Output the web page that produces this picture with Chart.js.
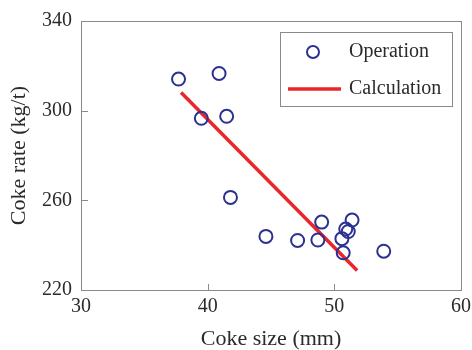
<!DOCTYPE html>
<html>
<head>
<meta charset="utf-8">
<script src="https://cdn.jsdelivr.net/npm/chart.js@4"></script>
<style>
  html, body { margin: 0; padding: 0; background: #fff; }
  #wrap { width: 472px; height: 350px; }
</style>
</head>
<body>
<div id="wrap"><canvas id="coke_chart" width="472" height="350"></canvas></div>
<script>
// measured operation points
var cokeSize = [37.7, 40.9, 39.5, 41.5, 41.8, 44.6, 47.1, 48.7, 49.0, 50.6, 50.9, 51.1, 51.4, 50.7, 53.9];
var cokeRate = [314.1, 316.6, 296.6, 297.5, 261.3, 243.9, 242.1, 242.3, 250.3, 242.9, 247.2, 246.1, 251.2, 236.6, 237.3];
// calculated trend line (end points)
var calcSize = [37.9, 51.8];
var calcRate = [308.1, 228.7];
var xTicks = [30, 40, 50, 60];
var yTicks = [220, 260, 300, 340];

var FONT = '"Liberation Serif", "Times New Roman", serif';
var TEXT = '#2b2b2b';
var AXIS = '#8a8a8a';
var BLUE = '#2b3190';
var RED = '#e8262b';

function toPoints(xs, ys) {
    return xs.map(function (x, i) { return { x: x, y: ys[i] }; });
}

// frame + inward tick marks
var framePlugin = {
    id: 'frame',
    afterDraw: function (chart) {
        var ctx = chart.ctx, a = chart.chartArea;
        var sx = chart.scales.x, sy = chart.scales.y;
        ctx.save();
        ctx.strokeStyle = AXIS;
        ctx.lineWidth = 1;
        ctx.strokeRect(Math.round(a.left) + 0.5, Math.round(a.top) + 0.5,
            Math.round(a.right - a.left), Math.round(a.bottom - a.top));
        ctx.beginPath();
        xTicks.slice(1, -1).forEach(function (v) {
            var px = Math.round(sx.getPixelForValue(v)) + 0.5;
            ctx.moveTo(px, a.bottom);
            ctx.lineTo(px, a.bottom - 6);
        });
        yTicks.slice(1, -1).forEach(function (v) {
            var py = Math.round(sy.getPixelForValue(v)) + 0.5;
            ctx.moveTo(a.left, py);
            ctx.lineTo(a.left + 7, py);
        });
        ctx.stroke();
        ctx.restore();
    }
};

// boxed legend in the upper right corner
var legendPlugin = {
    id: 'boxLegend',
    afterDraw: function (chart) {
        var ctx = chart.ctx, a = chart.chartArea;
        var bx = a.right - 181, by = a.top + 11, bw = 172, bh = 74;
        ctx.save();
        ctx.fillStyle = '#fff';
        ctx.fillRect(bx, by, bw, bh);
        ctx.strokeStyle = AXIS;
        ctx.lineWidth = 1;
        ctx.strokeRect(Math.round(bx) + 0.5, Math.round(by) + 0.5, bw, bh);

        ctx.beginPath();
        ctx.arc(bx + 33, by + 20, 6, 0, Math.PI * 2);
        ctx.strokeStyle = BLUE;
        ctx.lineWidth = 2;
        ctx.stroke();

        ctx.beginPath();
        ctx.moveTo(bx + 8, by + 57);
        ctx.lineTo(bx + 61, by + 57);
        ctx.strokeStyle = RED;
        ctx.lineWidth = 3.5;
        ctx.stroke();

        ctx.fillStyle = TEXT;
        ctx.font = '20px ' + FONT;
        ctx.textBaseline = 'middle';
        ctx.fillText(chart.data.datasets[0].label, bx + 69, by + 20);
        ctx.fillText(chart.data.datasets[1].label, bx + 69, by + 57);
        ctx.restore();
    }
};

var CHART = document.getElementById('coke_chart').getContext('2d');
var coke_chart = new Chart(CHART, {
    type: 'scatter',
    data: {
        datasets: [{
                label: 'Operation',
                data: toPoints(cokeSize, cokeRate),
                pointStyle: 'circle',
                pointRadius: 6.5,
                pointBorderWidth: 2,
                borderColor: BLUE,
                backgroundColor: 'transparent',
                showLine: false
            },
            {
                label: 'Calculation',
                type: 'line',
                data: toPoints(calcSize, calcRate),
                borderColor: RED,
                borderWidth: 3.5,
                pointRadius: 0,
                fill: false
            }
        ]
    },
    options: {
        responsive: false,
        animation: false,
        layout: { padding: { top: 21, right: 11, left: 0, bottom: 0 } },
        plugins: { legend: { display: false }, tooltip: { enabled: false } },
        scales: {
            x: {
                type: 'linear',
                min: 30, max: 60,
                afterBuildTicks: function (s) { s.ticks = xTicks.map(function (v) { return { value: v }; }); },
                afterFit: function (s) { s.height = 60; },
                grid: { display: false },
                border: { display: false },
                ticks: { color: TEXT, font: { family: FONT, size: 20 }, padding: -3, maxRotation: 0 },
                title: { display: true, text: 'Coke size (mm)', color: TEXT, font: { family: FONT, size: 22, lineHeight: 1 }, padding: { top: 0, bottom: 0 } }
            },
            y: {
                type: 'linear',
                min: 220, max: 340,
                afterBuildTicks: function (s) { s.ticks = yTicks.map(function (v) { return { value: v }; }); },
                afterFit: function (s) { s.width = 81; },
                grid: { display: false },
                border: { display: false },
                ticks: { color: TEXT, font: { family: FONT, size: 20 }, padding: 1 },
                title: { display: true, text: 'Coke rate (kg/t)', color: TEXT, font: { family: FONT, size: 22, lineHeight: 1 }, padding: { top: 8, bottom: 0 } }
            }
        }
    },
    plugins: [framePlugin, legendPlugin]
});
</script>
</body>
</html>
